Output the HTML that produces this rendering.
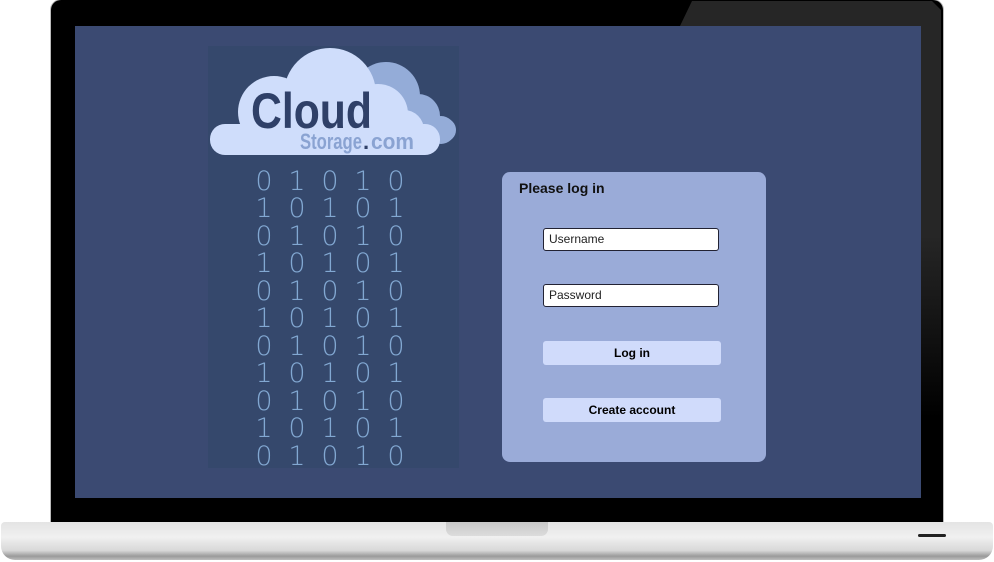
<!DOCTYPE html>
<html><head><meta charset="utf-8"><style>
html,body{margin:0;padding:0;background:#fff;}
body{width:994px;height:562px;position:relative;overflow:hidden;font-family:"Liberation Sans",sans-serif;}
.a{position:absolute;}
</style></head><body>
<div class="a" style="left:51px;top:0;width:892px;height:524px;background:#000;border-radius:10px 10px 0 0;box-shadow:0 0 0 1px #bbb;"></div>
<svg class="a" style="left:0;top:0" width="994" height="562">
<defs><linearGradient id="g" x1="0" y1="0" x2="0" y2="1"><stop offset="0" stop-color="#262626"/><stop offset="0.45" stop-color="#262626"/><stop offset="0.8" stop-color="#000"/></linearGradient></defs>
<polygon points="692,1 932,1 941,10 941,522 921,522 921,26 680,26" fill="url(#g)"/>
</svg>
<div class="a" style="left:75px;top:26px;width:846px;height:472px;background:#3b4a72;"></div>
<div class="a" style="left:208px;top:46px;width:251px;height:422px;background:#35486c;"></div>
<svg class="a" style="left:208px;top:46px" width="251" height="130">
<g fill="#94acd8">
<circle cx="178" cy="50" r="34"/><circle cx="210" cy="70" r="22"/><circle cx="233" cy="84" r="14"/>
<rect x="150" y="72" width="98" height="24" rx="12"/>
</g>
<g fill="#cfddfb">
<circle cx="122" cy="48" r="46"/><circle cx="66" cy="66" r="36"/><circle cx="170" cy="68" r="30"/><circle cx="196" cy="84" r="20"/>
<rect x="2" y="78" width="230" height="31" rx="15"/>
</g>
<text x="43" y="82" font-family="Liberation Sans" font-weight="bold" font-size="50" fill="#2f4068" textLength="121" lengthAdjust="spacingAndGlyphs">Cloud</text>
<text x="92" y="103" font-family="Liberation Sans" font-weight="bold" font-size="22" fill="#8aa3d2" textLength="62" lengthAdjust="spacingAndGlyphs">Storage</text>
<text x="155" y="103" font-family="Liberation Sans" font-weight="bold" font-size="22" fill="#2f4068">.</text>
<text x="163" y="103" font-family="Liberation Sans" font-weight="bold" font-size="22" fill="#8aa3d2" textLength="43" lengthAdjust="spacingAndGlyphs">com</text>
</svg>
<svg class="a" style="left:208px;top:160px" width="251" height="310" font-family="DejaVu Sans" font-weight="200" font-size="27" fill="#82a8d2" text-anchor="middle">
<text x="56" y="30">0</text><text x="89" y="30">1</text><text x="122" y="30">0</text><text x="155" y="30">1</text><text x="188" y="30">0</text>
<text x="56" y="57">1</text><text x="89" y="57">0</text><text x="122" y="57">1</text><text x="155" y="57">0</text><text x="188" y="57">1</text>
<text x="56" y="85">0</text><text x="89" y="85">1</text><text x="122" y="85">0</text><text x="155" y="85">1</text><text x="188" y="85">0</text>
<text x="56" y="112">1</text><text x="89" y="112">0</text><text x="122" y="112">1</text><text x="155" y="112">0</text><text x="188" y="112">1</text>
<text x="56" y="140">0</text><text x="89" y="140">1</text><text x="122" y="140">0</text><text x="155" y="140">1</text><text x="188" y="140">0</text>
<text x="56" y="167">1</text><text x="89" y="167">0</text><text x="122" y="167">1</text><text x="155" y="167">0</text><text x="188" y="167">1</text>
<text x="56" y="195">0</text><text x="89" y="195">1</text><text x="122" y="195">0</text><text x="155" y="195">1</text><text x="188" y="195">0</text>
<text x="56" y="222">1</text><text x="89" y="222">0</text><text x="122" y="222">1</text><text x="155" y="222">0</text><text x="188" y="222">1</text>
<text x="56" y="250">0</text><text x="89" y="250">1</text><text x="122" y="250">0</text><text x="155" y="250">1</text><text x="188" y="250">0</text>
<text x="56" y="277">1</text><text x="89" y="277">0</text><text x="122" y="277">1</text><text x="155" y="277">0</text><text x="188" y="277">1</text>
<text x="56" y="305">0</text><text x="89" y="305">1</text><text x="122" y="305">0</text><text x="155" y="305">1</text><text x="188" y="305">0</text>
</svg>
<div class="a" style="left:502px;top:172px;width:264px;height:290px;background:#9aabd8;border-radius:8px;"></div>
<div class="a" style="left:519px;top:180px;font-size:14px;font-weight:bold;color:#111;">Please log in</div>
<div class="a" style="left:543px;top:228px;width:174px;height:21px;background:#fff;border:1.5px solid #223;border-radius:3px;font-size:12px;line-height:21px;text-indent:5px;color:#222;">Username</div>
<div class="a" style="left:543px;top:284px;width:174px;height:21px;background:#fff;border:1.5px solid #223;border-radius:3px;font-size:12px;line-height:21px;text-indent:5px;color:#222;">Password</div>
<div class="a" style="left:543px;top:341px;width:178px;height:24px;background:#d0dbfb;border-radius:3px;font-size:12px;font-weight:bold;line-height:24px;text-align:center;color:#000;">Log in</div>
<div class="a" style="left:543px;top:398px;width:178px;height:24px;background:#d0dbfb;border-radius:3px;font-size:12px;font-weight:bold;line-height:24px;text-align:center;color:#000;">Create account</div>
<div class="a" style="left:1px;top:522px;width:992px;height:38px;border-radius:4px 4px 14px 14px;background:linear-gradient(to bottom,#e4e4e4 0,#f0f0f0 40%,#d8d8d8 75%,#9a9a9a 90%,#bdbdbd 100%);"></div>
<div class="a" style="left:446px;top:522px;width:102px;height:14px;border-radius:0 0 7px 7px;background:linear-gradient(#c8c8c8,#dcdcdc);"></div>
<div class="a" style="left:918px;top:534px;width:28px;height:3px;border-radius:2px;background:#222;"></div>
</body></html>
